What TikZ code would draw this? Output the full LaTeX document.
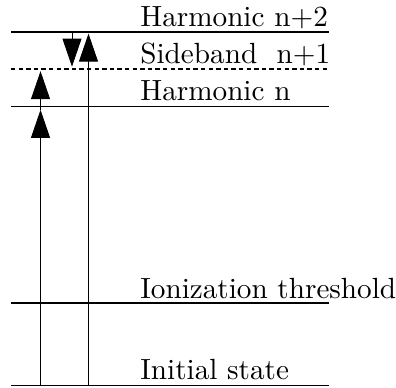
\documentclass[tikz,border=0pt]{standalone}
\usepackage{fontspec}
\newfontfamily\lmten{lmroman10-regular.otf}
\usepackage{tikz}
\usetikzlibrary{arrows.meta}
\tikzset{
  level/.style={line width=0.75pt},
  sideband/.style={line width=1pt, dash pattern=on 2.2pt off 1.6pt},
  lbl/.style={anchor=base west, inner sep=0pt, font=\lmten\fontsize{14.6}{18}\selectfont},
  photon/.style={-{Triangle[length=14pt, width=9.5pt]}}
}
\begin{document}
\begin{tikzpicture}
  \useasboundingbox (0,0) rectangle (6.959,6.801);

  % Energy levels
  \draw[level] (0.193,0.026) -- (5.782,0.026);
  \draw[level] (0.193,1.476) -- (5.782,1.476);
  \draw[level] (0.193,4.926) -- (5.782,4.926);
  \draw[sideband] (0.193,5.597) -- (5.782,5.597);
  \draw[level] (0.193,6.238) -- (5.782,6.238);

  % Labels
  \node[lbl] (init) at (2.46,0.14) {Initial state};
  \node[lbl] (ion) at (2.46,1.56) {Ionization threshold};
  \node[lbl] (harmn) at (2.46,5.04) {Harmonic n};
  \node[lbl] (side) at (2.46,5.69) {Sideband~ n+1};
  \node[lbl] (harmnn) at (2.46,6.34) {Harmonic n+2};

  % Arrow end points
  \coordinate (a0) at (0.712,0.026);
  \coordinate (a1) at (0.712,4.87);
  \coordinate (a2) at (0.712,5.55);
  \coordinate (b0) at (1.555,0.026);
  \coordinate (b1) at (1.555,6.21);
  \coordinate (c0) at (1.265,6.238);
  \coordinate (c1) at (1.265,5.63);

  % Transitions
  \draw[photon] (a0) -- (a1);
  \draw[photon] (a1) -- (a2);
  \draw[photon] (b0) -- (b1);
  \draw[photon] (c0) -- (c1);
\end{tikzpicture}
\end{document}
